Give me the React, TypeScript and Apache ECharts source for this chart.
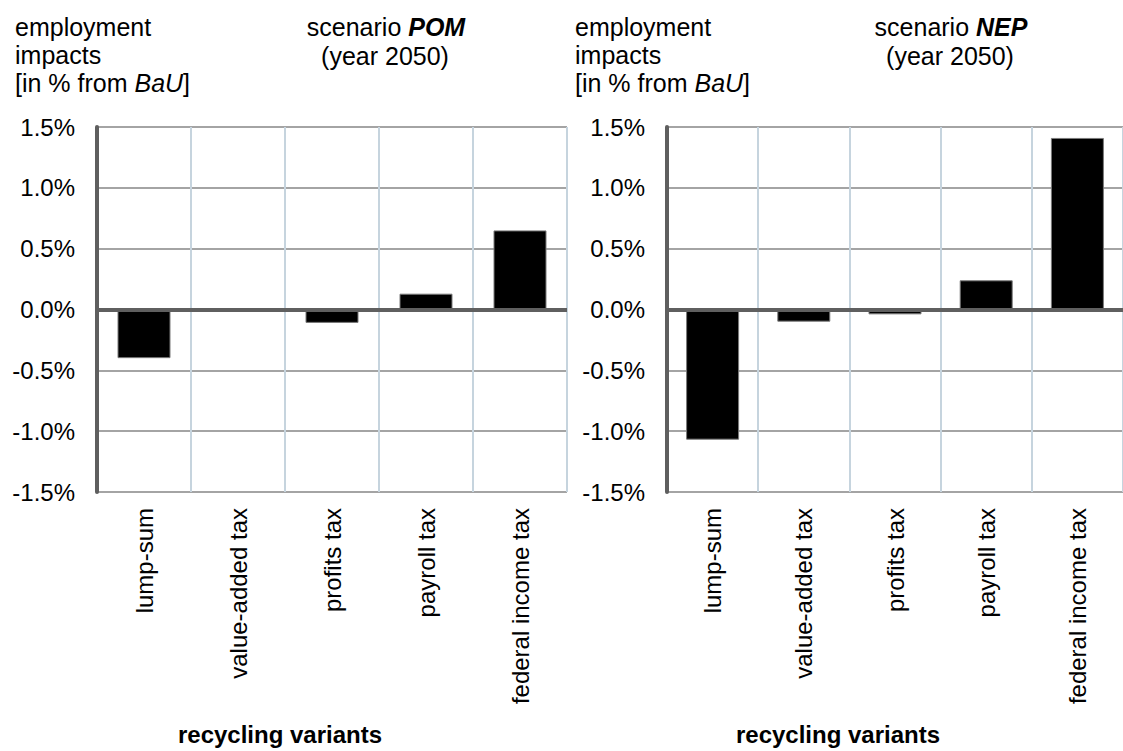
import React, { useEffect, useRef } from "react";
import * as echarts from "echarts";

const categories = ["lump-sum", "value-added tax", "profits tax", "payroll tax", "federal income tax"];
const pomValues = [-0.4, 0, -0.11, 0.13, 0.65];
const nepValues = [-1.07, -0.1, -0.04, 0.24, 1.41];
const yTicks = { min: -1.5, max: 1.5, interval: 0.5 };

const FONT = "'Liberation Sans', Arial, Helvetica, sans-serif";
const FS = 25;
const AXIS_DARK = "#5f5f5f";

function makeX(gridIndex: number) {
  return {
    type: "category",
    gridIndex,
    data: categories,
    position: "bottom",
    axisLine: { show: false, onZero: false },
    axisTick: { show: false },
    splitLine: { show: true, lineStyle: { color: "#c6d4de", width: 2 } },
    axisLabel: {
      rotate: 90,
      margin: 16,
      fontSize: FS - 1,
      fontFamily: FONT,
      color: "#000",
      interval: 0,
    },
  };
}

function makeY(gridIndex: number) {
  return {
    type: "value",
    gridIndex,
    min: yTicks.min,
    max: yTicks.max,
    interval: yTicks.interval,
    axisLine: { show: true, lineStyle: { color: AXIS_DARK, width: 4 } },
    axisTick: { show: false },
    splitLine: { show: true, lineStyle: { color: "#868686", width: 1.5 } },
    axisLabel: {
      margin: 22,
      fontSize: FS - 1,
      fontFamily: FONT,
      color: "#000",
      formatter: (v: number) => v.toFixed(1) + "%",
    },
  };
}

function makeSeries(values: number[], idx: number) {
  return {
    type: "bar",
    xAxisIndex: idx,
    yAxisIndex: idx,
    data: values,
    barWidth: 53,
    itemStyle: { color: "#000", borderColor: "#7a7a7a", borderWidth: 1 },
    markLine: {
      silent: true,
      symbol: "none",
      label: { show: false },
      lineStyle: { color: AXIS_DARK, width: 4, type: "solid" },
      data: [{ yAxis: 0 }],
      z: 5,
    },
  };
}

function titleBlock(dx: number, dxs: number, scenario: string) {
  const lines = [
    { t: "employment", y: 14 },
    { t: "impacts", y: 42 },
  ];
  const els: any[] = lines.map((l) => ({
    type: "text",
    left: 15 + dx,
    top: l.y,
    style: { text: l.t, font: `${FS}px ${FONT}`, fill: "#000" },
  }));
  els.push({
    type: "text",
    left: 15 + dx,
    top: 70,
    style: {
      text: "{n|[in % from }{i|BaU}{n|]}",
      fill: "#000",
      rich: {
        n: { fontSize: FS, fontFamily: FONT, color: "#000" },
        i: { fontSize: FS, fontFamily: FONT, fontStyle: "italic", color: "#000" },
      },
    },
  });
  els.push({
    type: "text",
    x: 386 + dxs,
    y: 14,
    style: {
      text: "{n|scenario }{b|" + scenario + "}",
      align: "center",
      verticalAlign: "top",
      rich: {
        n: { fontSize: FS, fontFamily: FONT, color: "#000" },
        b: { fontSize: FS, fontFamily: FONT, fontStyle: "italic", fontWeight: "bold", color: "#000" },
      },
    },
  });
  els.push({
    type: "text",
    x: 385 + dxs,
    y: 43,
    style: {
      text: "(year 2050)",
      font: `${FS}px ${FONT}`,
      fill: "#000",
      align: "center",
      verticalAlign: "top",
    },
  });
  return els;
}

export default function App() {
  const ref = useRef<HTMLDivElement>(null);
  useEffect(() => {
    if (!ref.current) return;
    const chart = echarts.init(ref.current, null, { renderer: "svg" });
    chart.setOption({
      animation: false,
      backgroundColor: "#fff",
      grid: [
        { left: 97, top: 127, width: 470, bottom: 259, containLabel: false },
        { left: 667, top: 127, width: 470, bottom: 259, containLabel: false },
      ],
      xAxis: [makeX(0), makeX(1)],
      yAxis: [makeY(0), makeY(1)],
      series: [makeSeries(pomValues, 0), makeSeries(nepValues, 1)],
      graphic: [
        ...titleBlock(0, 0, "POM"),
        ...titleBlock(560, 565, "NEP"),
        {
          type: "text",
          x: 280,
          y: 734,
          style: {
            text: "recycling variants",
            font: `bold ${FS - 1}px ${FONT}`,
            fill: "#000",
            align: "center",
            verticalAlign: "middle",
          },
        },
        {
          type: "text",
          x: 838,
          y: 734,
          style: {
            text: "recycling variants",
            font: `bold ${FS - 1}px ${FONT}`,
            fill: "#000",
            align: "center",
            verticalAlign: "middle",
          },
        },
      ],
    });
    return () => chart.dispose();
  }, []);
  return (
    <div
      ref={ref}
      style={{ position: "absolute", left: 0, top: 0, width: 1123, height: 751 }}
    />
  );
}
